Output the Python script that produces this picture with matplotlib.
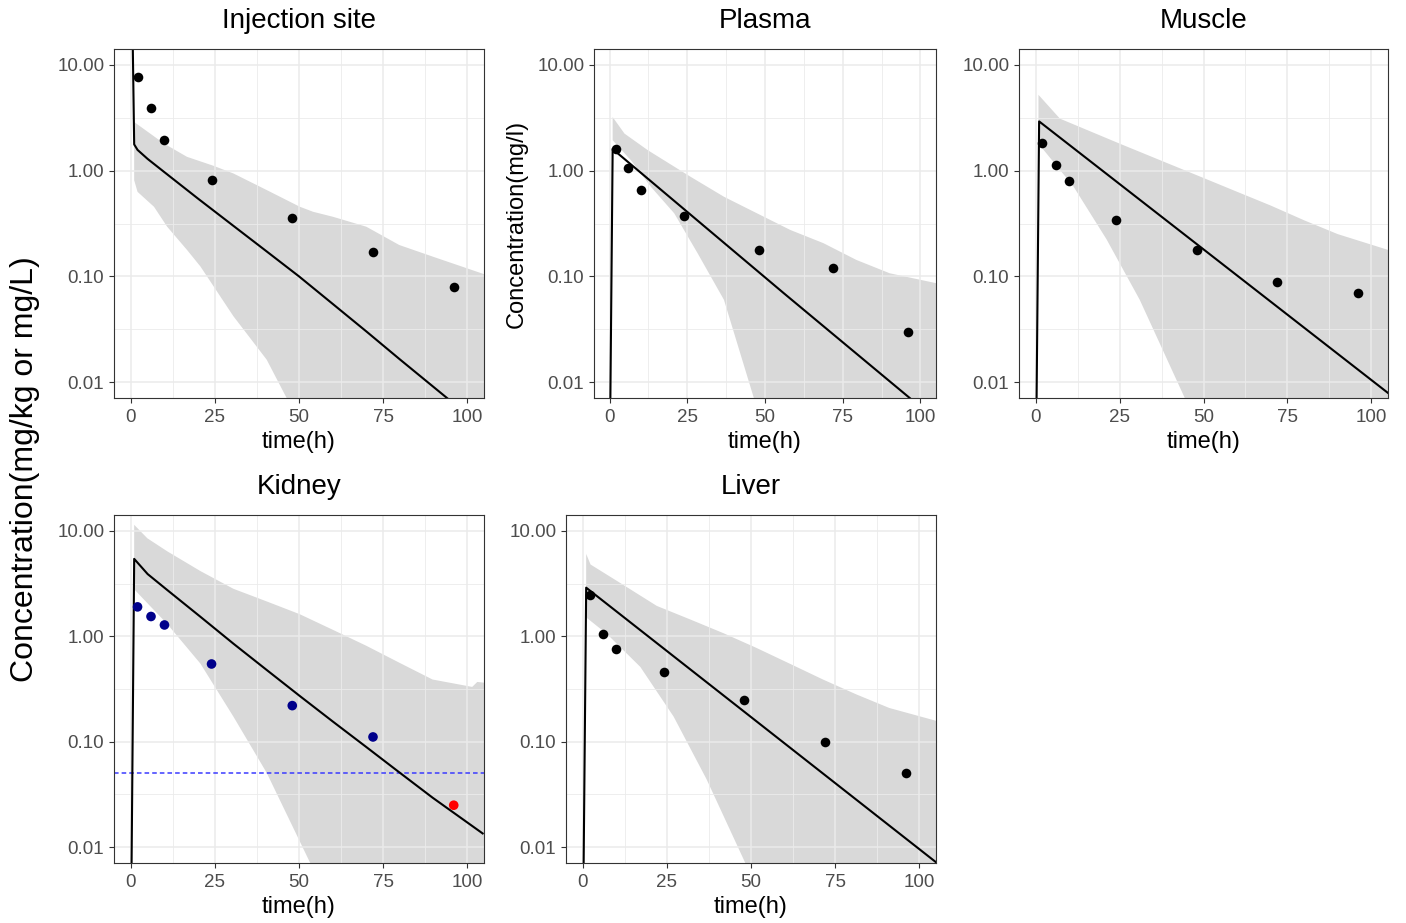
import numpy as np
import matplotlib.pyplot as plt

plt.rcParams['font.family'] = ['Liberation Sans', 'DejaVu Sans']

# observed data (same sampling times in every tissue)
obs_time = [2, 6, 10, 24, 48, 72, 96]
inj_obs = [7.6, 3.9, 1.95, 0.81, 0.36, 0.17, 0.08]
plasma_obs = [1.6, 1.07, 0.65, 0.375, 0.178, 0.119, 0.03]
muscle_obs = [1.83, 1.13, 0.79, 0.345, 0.178, 0.089, 0.07]
kidney_obs = [1.9, 1.54, 1.28, 0.546, 0.22, 0.111, 0.025]
liver_obs = [2.46, 1.06, 0.75, 0.458, 0.25, 0.10, 0.05]
kidney_loq = 0.05

# model median
inj_line_t = [0, 1, 2, 5, 10, 20, 30, 40, 50, 60, 70, 80, 94, 105]
inj_line = [300, 1.77, 1.57, 1.29, 0.966, 0.543, 0.309, 0.176, 0.1, 0.055,
            0.0302, 0.0164, 0.00708, 0.00363]
plasma_line_t = [0, 1, 56, 96.5, 105]
plasma_line = [1e-3, 1.6, 0.0695, 0.0071, 0.0044]
muscle_line_t = [0, 1, 105]
muscle_line = [1e-3, 2.92, 0.0079]
kidney_line_t = [0, 1, 5, 10.8, 20.7, 30.5, 40.4, 50.2, 60.1, 70, 79.8, 89.7, 104.6]
kidney_line = [1e-3, 5.42, 3.89, 2.75, 1.53, 0.851, 0.479, 0.272, 0.155, 0.0891,
               0.0513, 0.0295, 0.0135]
liver_line_t = [0, 1, 105]
liver_line = [1e-3, 2.89, 0.0072]

# model prediction band (upper / lower edges)
inj_up_t = [1, 9.9, 16.7, 24.6, 30.5, 40.4, 50.2, 54.2, 60.1, 70, 79.8, 89.7, 105]
inj_up = [2.88, 1.80, 1.35, 1.11, 0.94, 0.655, 0.456, 0.408, 0.366, 0.295, 0.198, 0.154, 0.105]
inj_lo_t = [1, 2, 6.9, 10.8, 16.7, 20.7, 30.5, 40.4, 46.3, 50, 105]
inj_lo = [0.81, 0.63, 0.455, 0.295, 0.178, 0.124, 0.042, 0.0163, 0.0071, 0.0033, 1e-4]

plasma_up_t = [1, 4.8, 12.3, 26.1, 36.8, 47.4, 58.1, 68.8, 79.4, 90.1, 105]
plasma_up = [3.21, 2.24, 1.56, 0.873, 0.566, 0.395, 0.275, 0.206, 0.143, 0.107, 0.0863]
plasma_lo_t = [1, 6.9, 13.3, 20.8, 28.3, 36.8, 46.4, 52, 105]
plasma_lo = [1.94, 1.25, 0.703, 0.395, 0.166, 0.060, 0.0071, 0.003, 1e-4]

muscle_up_t = [0.8, 7.2, 25, 50.8, 60, 70, 80, 90, 105]
muscle_up = [5.21, 3.1, 1.80, 0.832, 0.631, 0.468, 0.339, 0.251, 0.178]
muscle_lo_t = [0.8, 11.2, 21.1, 31, 44.4, 50, 105]
muscle_lo = [1.8, 0.711, 0.224, 0.06, 0.0071, 0.003, 1e-4]

kidney_up_t = [1, 4.9, 10.8, 20.7, 30.5, 40.4, 50.2, 60.1, 70, 79.8, 89.7, 101.5, 103, 105]
kidney_up = [11.4, 8.5, 6.4, 4.15, 2.82, 2.14, 1.62, 1.15, 0.813, 0.562, 0.389, 0.331, 0.369, 0.363]
kidney_lo_t = [1, 10.8, 20.7, 30.5, 40.4, 53.2, 60, 105]
kidney_lo = [2.79, 1.31, 0.55, 0.173, 0.0507, 0.00723, 0.003, 1e-4]

liver_up_t = [1, 2.3, 10.2, 22, 31.9, 41.8, 51.6, 61.5, 71.4, 81.2, 91.1, 105]
liver_up = [6.04, 4.79, 3.34, 1.94, 1.445, 1.07, 0.776, 0.55, 0.389, 0.282, 0.209, 0.158]
liver_lo_t = [1, 7.2, 17.1, 27, 36.8, 48.2, 55, 105]
liver_lo = [1.51, 1.05, 0.512, 0.173, 0.044, 0.0072, 0.003, 1e-4]

y_ticks = [0.01, 0.1, 1, 10]
y_labels = ['0.01', '0.10', '1.00', '10.00']
x_ticks = [0, 25, 50, 75, 100]

W, H = 1406, 923
fig = plt.figure(figsize=(W / 100, H / 100), dpi=100)


def panel(box, title, obs, lt, lv, ut, uv, dt, dv, colors='black', ylabel=None):
    x0, y0, x1, y1 = box
    ax = fig.add_axes([x0 / W, 1 - y1 / H, (x1 - x0) / W, (y1 - y0) / H])
    ax.set_yscale('log')
    # ribbon polygon: upper edge then lower edge reversed
    ax.fill(np.r_[ut, dt[::-1]], np.r_[uv, dv[::-1]], color='#D9D9D9', lw=0, zorder=0.3)
    ax.plot(lt, lv, color='black', lw=1.5, zorder=2)
    ax.scatter(obs_time, obs, s=48, c=colors, zorder=3, linewidths=0)
    ax.set_xlim(-5, 105)
    ax.set_ylim(10 ** -2.15, 10 ** 1.15)
    ax.set_yticks(y_ticks)
    ax.set_yticklabels(y_labels)
    ax.set_yticks([10 ** -1.5, 10 ** -0.5, 10 ** 0.5], minor=True)
    ax.set_yticklabels([], minor=True)
    ax.set_xticks(x_ticks)
    ax.set_xticks([12.5, 37.5, 62.5, 87.5], minor=True)
    ax.set_axisbelow(True)
    ax.grid(which='major', color='#EBEBEB', lw=1.1)
    ax.grid(which='minor', color='#EBEBEB', lw=0.6)
    ax.tick_params(which='major', width=0.8, color='#333333',
                   labelsize=13.5, labelcolor='#4D4D4D')
    ax.tick_params(axis='y', which='major', length=3.5, pad=3.5)
    ax.tick_params(axis='x', which='major', length=3.5, pad=4.5)
    ax.tick_params(which='minor', length=0)
    for s in ax.spines.values():
        s.set_color('#333333')
        s.set_linewidth(0.8)
    h = y1 - y0
    ax.text(0.5, 1 + 27.5 / h, title, transform=ax.transAxes, ha='center',
            va='center', fontsize=20)
    ax.set_xlabel('time(h)', fontsize=17, va='center')
    ax.xaxis.set_label_coords(0.5, -44 / h)
    if ylabel:
        ax.set_ylabel(ylabel, fontsize=17, va='center')
        ax.yaxis.set_label_coords(-77 / (x1 - x0), 0.5)
    return ax


panel((114, 49, 484, 398), 'Injection site', inj_obs, inj_line_t, inj_line,
      inj_up_t, inj_up, inj_lo_t, inj_lo)
panel((594, 49, 936, 398), 'Plasma', plasma_obs, plasma_line_t, plasma_line,
      plasma_up_t, plasma_up, plasma_lo_t, plasma_lo, ylabel='Concentration(mg/l)')
panel((1019, 49, 1388, 398), 'Muscle', muscle_obs, muscle_line_t, muscle_line,
      muscle_up_t, muscle_up, muscle_lo_t, muscle_lo)
kidney_colors = ['red' if v < kidney_loq else '#00008B' for v in kidney_obs]
axk = panel((114, 515, 484, 863), 'Kidney', kidney_obs, kidney_line_t, kidney_line,
            kidney_up_t, kidney_up, kidney_lo_t, kidney_lo, colors=kidney_colors)
axk.axhline(kidney_loq, color='#3A3AFF', lw=1.1, ls=(0, (3, 2)), zorder=1.8)
panel((566, 515, 936, 863), 'Liver', liver_obs, liver_line_t, liver_line,
      liver_up_t, liver_up, liver_lo_t, liver_lo)

fig.text(25 / W, 1 - 469 / H, 'Concentration(mg/kg or mg/L)', rotation=90,
         ha='center', va='center', fontsize=23)

fig.savefig('out.png', dpi=100)
